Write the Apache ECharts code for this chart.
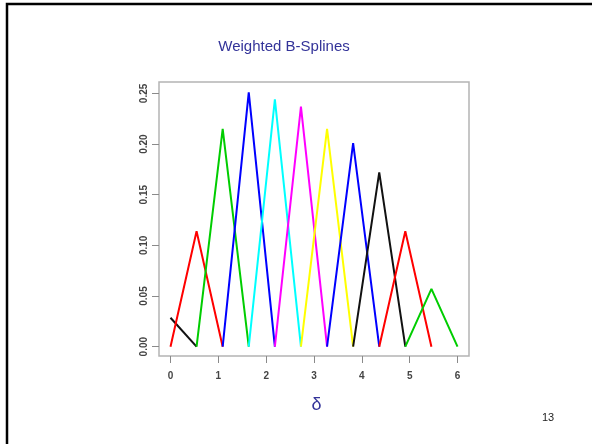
<!DOCTYPE html>
<html>
<head>
<meta charset="utf-8">
<script src="https://cdn.jsdelivr.net/npm/echarts@6/dist/echarts.min.js"></script>
<style>
  html, body { margin: 0; padding: 0; background: #fff; }
  #chart { width: 592px; height: 444px; }
</style>
</head>
<body>
<div id="chart"></div>
<script>
// Knot positions along δ (11 equal intervals on [0, 6])
const knots = [0, 0.545, 1.091, 1.636, 2.182, 2.727, 3.273, 3.818, 4.364, 4.909, 5.455, 6.0];
// Weighted height of each linear B-spline basis at its own knot
const peaks = [0.0286, 0.114, 0.215, 0.251, 0.244, 0.237, 0.215, 0.201, 0.172, 0.114, 0.057];
// Line colour of each basis function
const colors = ['#111111', '#ff0000', '#00cd00', '#0000ff', '#00ffff', '#ff00ff',
                '#ffff00', '#0000ff', '#111111', '#ff0000', '#00cd00'];
// Axis ranges and tick steps
const xRange = [0, 6], xStep = 1;
const yRange = [0, 0.25], yStep = 0.05;

// Each basis is a hat: zero at the neighbouring knots, peak at its own knot
const series = peaks.map((p, i) => {
  const pts = [];
  if (i > 0) pts.push([knots[i - 1], 0]);
  pts.push([knots[i], p]);
  if (i + 1 < knots.length) pts.push([knots[i + 1], 0]);
  return {
    type: 'line',
    xAxisIndex: 1,
    yAxisIndex: 1,
    data: pts,
    showSymbol: false,
    symbol: 'none',
    clip: false,
    animation: false,
    lineStyle: { color: colors[i], width: 2 },
    z: 2 + i
  };
});

const FONT = 'Liberation Sans, Arial, sans-serif';
const BOX_GRAY = '#b4b4b4';
const TICK_GRAY = '#8a8a8a';

// Bare axis used only to draw the short tick strokes as split lines
function tickAxis(gridIndex, range, step) {
  return {
    gridIndex, type: 'value', min: range[0], max: range[1], interval: step,
    axisLine: { show: false }, axisTick: { show: false }, axisLabel: { show: false },
    splitLine: { show: true, showMinLine: true, showMaxLine: true, lineStyle: { color: TICK_GRAY, width: 1 } }
  };
}
function hiddenAxis(gridIndex) {
  return { gridIndex, type: 'value', show: false, min: 0, max: 1 };
}

const chart = echarts.init(document.getElementById('chart'), null, { renderer: 'canvas' });
chart.setOption({
  backgroundColor: '#ffffff',
  animation: false,
  title: {
    text: 'Weighted B-Splines',
    left: 279, top: 34,
    textAlign: 'center',
    textStyle: { fontFamily: FONT, fontSize: 15, fontWeight: 'normal', color: '#333399' }
  },
  grid: [
    // plot frame (data range padded by 4% on each side)
    { left: 159, top: 82, right: 123, bottom: 88,
      show: true, borderColor: BOX_GRAY, borderWidth: 1.5, backgroundColor: 'transparent' },
    // data region spanning exactly the axis ranges
    { left: 170.5, top: 93.4, right: 134.5, bottom: 97.3 },
    // strip below the frame holding the x ticks
    { left: 170.5, top: 356, right: 134.5, bottom: 81 },
    // strip left of the frame holding the y ticks
    { left: 152, top: 93.4, right: 433, bottom: 97.3 }
  ],
  xAxis: [
    hiddenAxis(0),
    {
      gridIndex: 1,
      type: 'value',
      min: xRange[0], max: xRange[1], interval: xStep,
      offset: 9.3,
      name: 'δ',
      nameLocation: 'middle',
      nameGap: 40,
      nameTextStyle: { fontFamily: FONT, fontSize: 18, color: '#333399', padding: [0, 0, 0, 5] },
      axisLine: { show: false, onZero: false },
      splitLine: { show: false },
      axisTick: { show: false },
      axisLabel: { margin: 15, fontFamily: FONT, fontSize: 10, fontWeight: 'bold', color: '#444' }
    },
    tickAxis(2, xRange, xStep),
    hiddenAxis(3)
  ],
  yAxis: [
    hiddenAxis(0),
    {
      gridIndex: 1,
      type: 'value',
      min: yRange[0], max: yRange[1], interval: yStep,
      offset: 11.5,
      axisLine: { show: false, onZero: false },
      splitLine: { show: false },
      axisTick: { show: false },
      axisLabel: {
        rotate: 90,
        margin: 10,
        formatter: v => v.toFixed(2),
        fontFamily: FONT, fontSize: 10, fontWeight: 'bold', color: '#444'
      }
    },
    hiddenAxis(2),
    tickAxis(3, yRange, yStep)
  ],
  graphic: [
    {
      type: 'rect',
      z: -1,
      shape: { x: 7, y: 4, width: 700, height: 600 },
      style: { fill: null, stroke: '#000', lineWidth: 2.5 },
      silent: true
    },
    {
      type: 'text',
      x: 548, y: 418,
      style: { text: '13', fontFamily: FONT, fontSize: 11, fill: '#222', textAlign: 'center', textVerticalAlign: 'middle' }
    }
  ],
  series: series
});
</script>
</body>
</html>
